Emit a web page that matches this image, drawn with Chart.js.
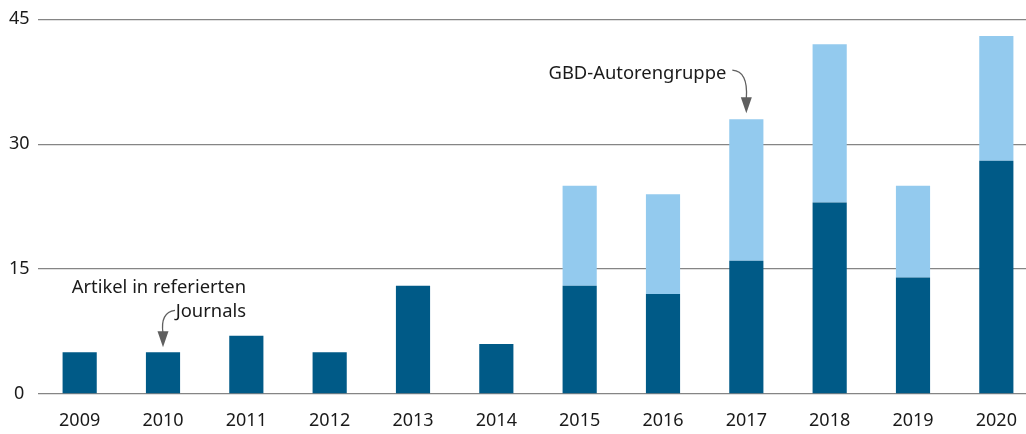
<!DOCTYPE html>
<html>
<head>
<meta charset="utf-8">
<script src="https://cdn.jsdelivr.net/npm/chart.js@4"></script>
<style>
  html, body { margin: 0; padding: 0; background: #fff; overflow: hidden; }
  #wrap { width: 1038px; height: 434px; }
</style>
</head>
<body>
<div id="wrap"><canvas id="c"></canvas></div>
<script>
const years = ["2009", "2010", "2011", "2012", "2013", "2014", "2015", "2016", "2017", "2018", "2019", "2020"];
const artikel = [5, 5, 7, 5, 13, 6, 13, 12, 16, 23, 14, 28];
const gbd = [0, 0, 0, 0, 0, 0, 12, 12, 17, 19, 11, 15];
const yTicks = [0, 15, 30, 45];

const FONT = "'Noto Sans', sans-serif";

// curved arrow with filled head, pointing down
function arrow(ctx, pts, tip) {
    ctx.save();
    ctx.strokeStyle = "#5f5f5f";
    ctx.fillStyle = "#5f5f5f";
    ctx.lineWidth = 1.3;
    ctx.beginPath();
    ctx.moveTo(pts[0], pts[1]);
    ctx.quadraticCurveTo(pts[2], pts[3], pts[4], pts[5]);
    ctx.stroke();
    ctx.beginPath();
    ctx.moveTo(tip[0], tip[1]);
    ctx.lineTo(tip[0] - 5.5, tip[1] - 16);
    ctx.lineTo(tip[0] + 5.5, tip[1] - 16);
    ctx.closePath();
    ctx.fill();
    ctx.restore();
}

const notes = {
    id: "notes",
    afterDatasetsDraw(chart) {
        const ctx = chart.ctx;
        const x = chart.scales.x, y = chart.scales.y;
        ctx.save();
        ctx.font = "18.4px " + FONT;
        ctx.fillStyle = "#1a1a1a";
        ctx.textAlign = "right";
        ctx.textBaseline = "middle";
        const x10 = x.getPixelForValue(1);
        ctx.fillText("Artikel in referierten", x10 + 83, y.getPixelForValue(12.8));
        ctx.fillText("Journals", x10 + 83, y.getPixelForValue(9.9));
        const x17 = x.getPixelForValue(8);
        ctx.fillText("GBD-Autorengruppe", x17 - 20, y.getPixelForValue(38.4));
        ctx.restore();

        const t1 = y.getPixelForValue(artikel[1]) - 5;
        arrow(ctx, [x10 + 12, t1 - 37, x10 - 3, t1 - 35, x10, t1 - 14], [x10, t1]);
        const t2 = y.getPixelForValue(artikel[8] + gbd[8]) - 6;
        arrow(ctx, [x17 - 14, t2 - 43, x17 + 2, t2 - 42, x17, t2 - 15], [x17, t2]);
    }
};

new Chart(document.getElementById("c"), {
    type: "bar",
    data: {
        labels: years,
        datasets: [
            { label: "Artikel in referierten Journals", data: artikel, backgroundColor: "#005a87" },
            { label: "GBD-Autorengruppe", data: gbd, backgroundColor: "#93caee" }
        ]
    },
    options: {
        responsive: true,
        maintainAspectRatio: false,
        animation: false,
        layout: { padding: { top: 16, right: 0, bottom: 0, left: 0 } },
        datasets: { bar: { barPercentage: 0.41, categoryPercentage: 1 } },
        plugins: { legend: { display: false }, tooltip: { enabled: false } },
        scales: {
            x: {
                stacked: true,
                grid: { display: false, drawTicks: false },
                border: { display: false },
                ticks: { color: "#1a1a1a", font: { family: FONT, size: 18 }, padding: 16, maxRotation: 0 },
                afterFit(s) { s.height = 40; }
            },
            y: {
                stacked: true,
                min: 0,
                max: 45,
                afterBuildTicks(s) { s.ticks = yTicks.map(v => ({ value: v })); },
                grid: { color: "#858585", lineWidth: 1.3, drawTicks: false },
                border: { display: false },
                ticks: { color: "#1a1a1a", font: { family: FONT, size: 18 }, padding: 8.5, crossAlign: "center" },
                afterFit(s) { s.width = 38; }
            }
        }
    },
    plugins: [notes]
});
</script>
</body>
</html>
